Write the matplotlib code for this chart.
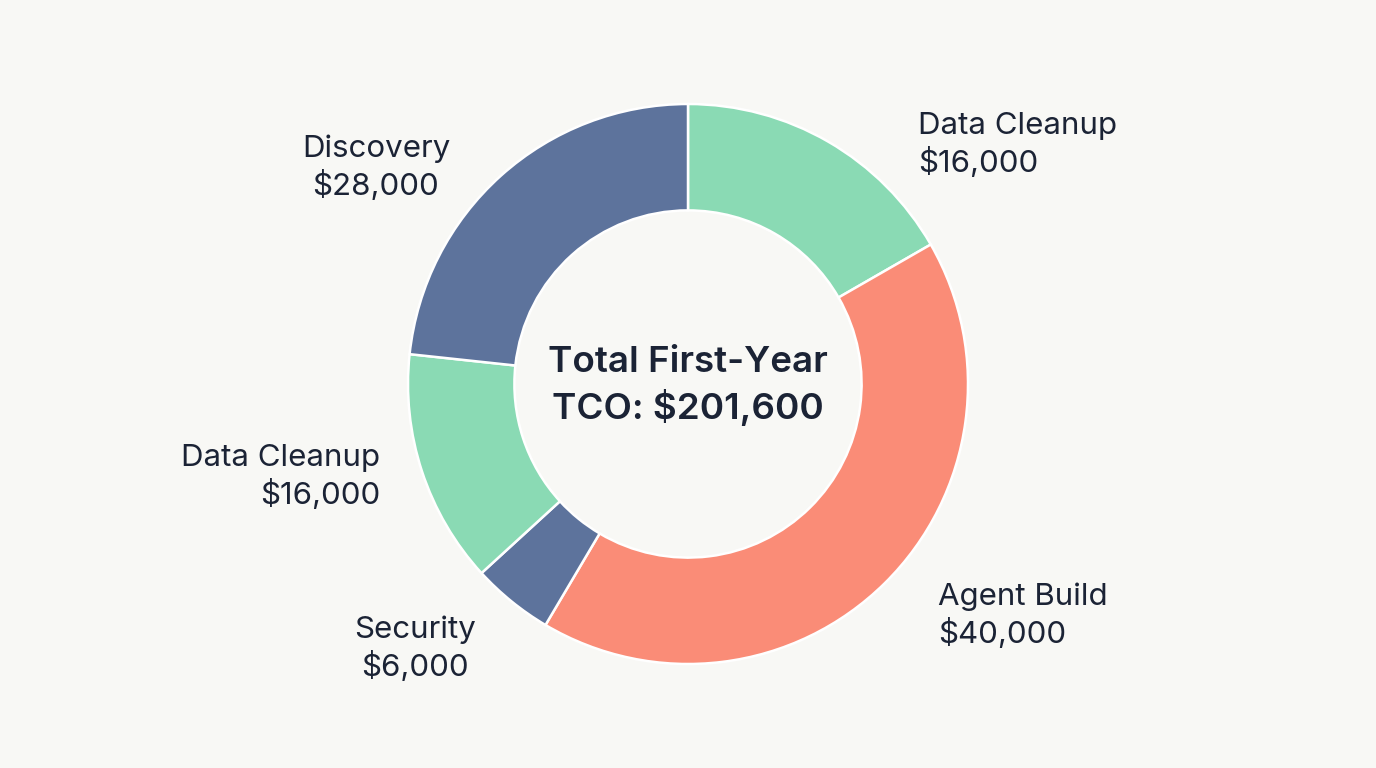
import matplotlib
matplotlib.use("Agg")
import matplotlib.pyplot as plt

# segments clockwise from 12 o'clock
labels = ["Data Cleanup", "Agent Build", "Security", "Data Cleanup", "Discovery"]
amounts = ["$16,000", "$40,000", "$6,000", "$16,000", "$28,000"]
# angular share of each wedge (percent)
shares = [16.7, 41.8, 4.7, 13.5, 23.3]
center_text = "Total First-Year\nTCO: $201,600"

BG = "#f8f8f5"
BLUE, GREEN, SALMON = "#5d739c", "#8adab4", "#fa8c77"
colors = [GREEN, SALMON, BLUE, GREEN, BLUE]
INK = "#1b2335"

plt.rcParams["font.family"] = ["Inter", "DejaVu Sans"]

fig = plt.figure(figsize=(13.76, 7.68), dpi=100, facecolor=BG)
ax = fig.add_axes([0, 0, 1, 1])
ax.set_facecolor(BG)

cx, cy, r = 688, 384, 280
ax.pie(shares, colors=colors, startangle=90, counterclock=False,
       center=(cx, cy), radius=r, frame=True,
       wedgeprops=dict(width=r * 0.38, edgecolor="white", linewidth=1.8))
ax.set_xlim(0, 1376); ax.set_ylim(0, 768)
ax.set_aspect("equal"); ax.axis("off")

ax.text(cx, cy - 2, center_text, ha="center", va="center", fontsize=26.5,
        fontweight="semibold", color=INK, linespacing=1.3)

# label positions in pixels (x, y from top), alignment
label_pos = [(918, 145, "left"), (938, 616, "left"), (415, 649, "center"),
             (380, 477, "right"), (376, 168, "center")]
for (lx, ly, ha), name, amt in zip(label_pos, labels, amounts):
    ax.text(lx, 768 - ly, f"{name}\n{amt}", ha=ha, va="center",
            fontsize=22.5, color=INK, linespacing=1.29, multialignment=ha)

fig.savefig("out.png", dpi=100, facecolor=BG)
plt.close(fig)
